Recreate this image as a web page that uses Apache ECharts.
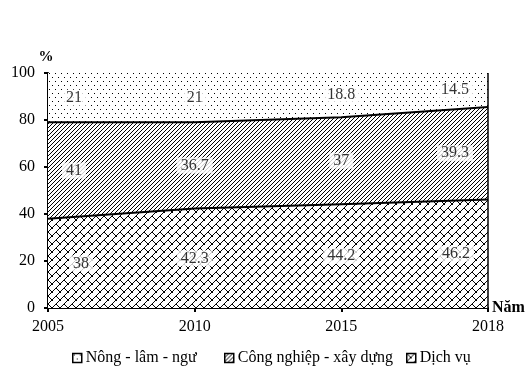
<!DOCTYPE html>
<html>
<head>
<meta charset="utf-8">
<script src="https://cdn.jsdelivr.net/npm/echarts@6/dist/echarts.min.js"></script>
<style>html,body{margin:0;padding:0;background:#fff}#c{width:529px;height:369px}</style>
</head>
<body>
<div id="c"></div>
<script>
// ---- data ----
const years = ['2005', '2010', '2015', '2018'];
const dichVu = [38, 42.3, 44.2, 46.2];
const congNghiep = [41, 36.7, 37, 39.3];
const nongLamNgu = [21, 21, 18.8, 14.5];
const seriesNames = ['Nông - lâm - ngư', 'Công nghiệp - xây dựng', 'Dịch vụ'];
const yMin = 0, yMax = 100, yStep = 20;

// ---- patterns ----
function tile(w, h, pts) {
  const c = document.createElement('canvas');
  c.width = w; c.height = h;
  const g = c.getContext('2d');
  g.fillStyle = '#fff'; g.fillRect(0, 0, w, h);
  g.fillStyle = '#000';
  pts.forEach(p => g.fillRect(p[0], p[1], 1, 1));
  return c;
}
const dotTile = tile(6, 8, [[1, 1], [4, 5]]);
const diagTile = tile(4, 4, [[3, 0], [2, 1], [1, 2], [0, 3]]);
const crossPts = [];
for (let i = 0; i < 8; i++) { crossPts.push([7 - i, i]); if (i < 5) crossPts.push([i, i]); }
const crossTile = tile(8, 8, crossPts);
const pat = c => ({ image: c, repeat: 'repeat' });
const patDots = pat(dotTile), patDiag = pat(diagTile), patCross = pat(crossTile);

// ---- label positions (middle of each band) ----
const FONT = "'Liberation Serif', 'Times New Roman', serif";
function bandLabels(base, vals, offs) {
  return vals.map((v, i) => ({
    value: [i, base[i] + v / 2],
    raw: v,
    label: { offset: [offs[i], 0] }
  }));
}
const zero = dichVu.map(() => 0);
const base2 = dichVu.slice();
const base3 = dichVu.map((v, i) => v + congNghiep[i]);

const labelStyle = {
  show: true,
  position: 'inside',
  formatter: p => String(p.data.raw),
  color: '#000',
  fontFamily: FONT,
  fontSize: 16,
  lineHeight: 15,
  backgroundColor: '#fff',
  padding: [1, 4, 0, 4]
};

function labelSeries(data) {
  return {
    type: 'scatter', symbolSize: 0, silent: true, z: 10,
    data: data, label: labelStyle
  };
}

const chart = echarts.init(document.getElementById('c'), null, { renderer: 'canvas' });
const legendItem = (name, color, left) => ({
  left: left, top: 345, icon: 'rect', itemWidth: 9, itemHeight: 9, itemGap: 0,
  selectedMode: false,
  textStyle: { fontFamily: FONT, fontSize: 16, color: '#000', padding: [0, 0, 0, -1] },
  data: [{ name: name, icon: 'rect', itemStyle: { color: color, borderColor: '#000', borderWidth: 1.5 } }]
});

chart.setOption({
  animation: false,
  backgroundColor: '#fff',
  grid: { left: 48, right: 41, top: 73, bottom: 61 },
  legend: [
    legendItem(seriesNames[0], patDots, 67),
    legendItem(seriesNames[1], patDiag, 219),
    legendItem(seriesNames[2], patCross, 401)
  ],
  xAxis: {
    type: 'category', data: years, boundaryGap: false,
    name: 'Năm', nameLocation: 'end', nameGap: 4,
    nameTextStyle: { fontFamily: FONT, fontSize: 16, fontWeight: 'bold', color: '#000', padding: [0, 0, 8, 0] },
    axisLine: { lineStyle: { color: '#000', width: 2 } },
    axisTick: { show: true, length: 4, lineStyle: { color: '#000', width: 2 } },
    axisLabel: { margin: 11, fontFamily: FONT, fontSize: 16, color: '#000' },
    splitLine: { show: false }
  },
  yAxis: {
    type: 'value', min: yMin, max: yMax, interval: yStep,
    name: '%', nameLocation: 'end', nameGap: 5,
    nameTextStyle: { fontFamily: FONT, fontSize: 15, fontWeight: 'bold', color: '#000', padding: [0, 4, 0, 0] },
    axisLine: { show: true, lineStyle: { color: '#000', width: 2 } },
    axisTick: { show: true, length: 4, lineStyle: { color: '#000', width: 2 } },
    axisLabel: { margin: 13, fontFamily: FONT, fontSize: 16, color: '#000' },
    splitLine: { show: false }
  },
  series: [
    {
      name: seriesNames[2], type: 'line', stack: 'total', data: dichVu,
      symbol: 'none', lineStyle: { color: '#000', width: 2 },
      areaStyle: { color: patCross, opacity: 1 },
      markLine: {
        silent: true, symbol: 'none', label: { show: false },
        lineStyle: { color: '#000', width: 1.5, type: 'solid' },
        data: [{ xAxis: years[years.length - 1] }]
      },
      z: 3
    },
    {
      name: seriesNames[1], type: 'line', stack: 'total', data: congNghiep,
      symbol: 'none', lineStyle: { color: '#000', width: 2 },
      areaStyle: { color: patDiag, opacity: 1 }, z: 2
    },
    {
      name: seriesNames[0], type: 'line', stack: 'total', data: nongLamNgu,
      symbol: 'none', lineStyle: { width: 0, opacity: 0 },
      areaStyle: { color: patDots, opacity: 1 }, z: 1
    },
    labelSeries(bandLabels(zero, dichVu, [33, 0, 0, -32])),
    labelSeries(bandLabels(base2, congNghiep, [26, 0, 0, -33])),
    labelSeries(bandLabels(base3, nongLamNgu, [26, 0, 0, -33]))
  ]
});
</script>
</body>
</html>
